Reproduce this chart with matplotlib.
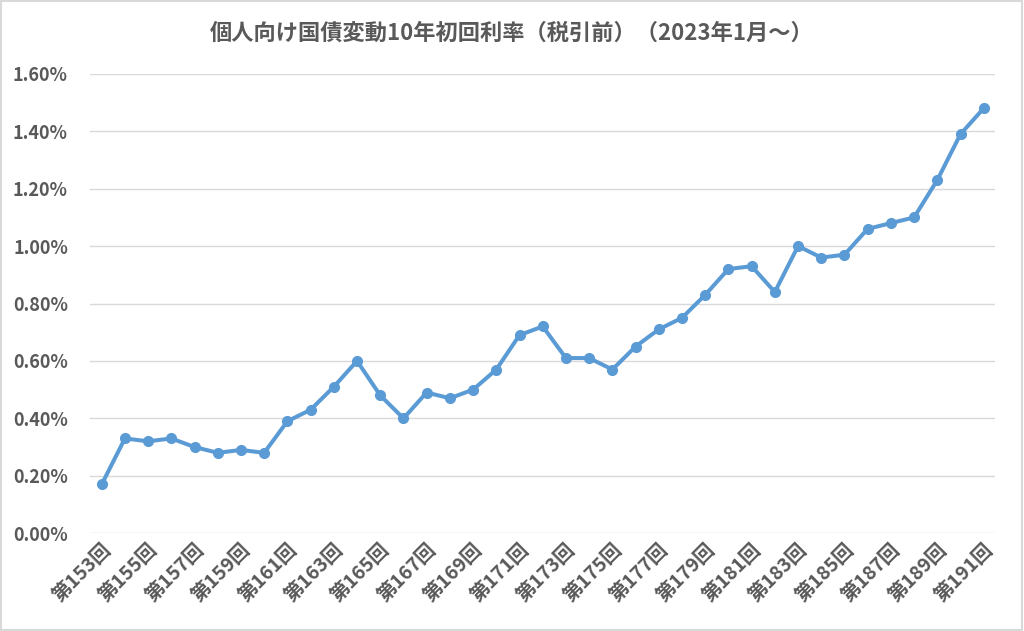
import matplotlib
matplotlib.use("Agg")
from matplotlib import pyplot as plt
from matplotlib.ticker import FuncFormatter, MultipleLocator

plt.rcParams['font.family'] = ['Noto Sans CJK JP', 'DejaVu Sans']

# issue numbers and first-period rates (%)
issues = list(range(153, 192))
rates = [0.17, 0.33, 0.32, 0.33, 0.30, 0.28, 0.29, 0.28, 0.39, 0.43,
         0.51, 0.60, 0.48, 0.40, 0.49, 0.47, 0.50, 0.57, 0.69, 0.72,
         0.61, 0.61, 0.57, 0.65, 0.71, 0.75, 0.83, 0.92, 0.93, 0.84,
         1.00, 0.96, 0.97, 1.06, 1.08, 1.10, 1.23, 1.39, 1.48]
labels = ["第%d回" % n for n in issues]
title = "個人向け国債変動10年初回利率（税引前）（2023年1月～）"

txt = "#595959"
fig = plt.figure(figsize=(10.24, 6.31), dpi=100)
ax = fig.add_axes([0.088, 0.155, 0.884, 0.728])

x = list(range(len(issues)))
ax.plot(x, [r / 100 for r in rates], color="#5B9BD5", lw=2.9,
        marker="o", markersize=7, solid_capstyle="round")

ax.set_xlim(-0.5, len(issues) - 0.5)
ax.set_ylim(0, 0.016)
ax.yaxis.set_major_locator(MultipleLocator(0.002))
ax.yaxis.set_major_formatter(FuncFormatter(lambda v, p: "%.2f%%" % (v * 100)))
ax.grid(axis="y", color="#D9D9D9", lw=1)
ax.set_axisbelow(True)
for s in ax.spines.values():
    s.set_visible(False)
ax.tick_params(length=0, colors=txt)
ax.tick_params(axis="y", pad=16, labelsize=13)
for t in ax.get_yticklabels():
    t.set_fontweight("bold")

ax.set_xticks(x[::2])
ax.set_xticklabels(labels[::2], rotation=45, ha="right",
                   rotation_mode="anchor", fontsize=14, fontweight="bold")
ax.tick_params(axis="x", pad=5)

fig.text(0.5, 0.947, title, ha="center", va="center", fontsize=16,
         fontweight="bold", color=txt)

fig.patches.append(plt.Rectangle((0.001, 0.001), 0.997, 0.997, transform=fig.transFigure,
                                 fill=False, edgecolor="#D9D9D9", lw=1.5))

fig.savefig("out.png", dpi=100)
